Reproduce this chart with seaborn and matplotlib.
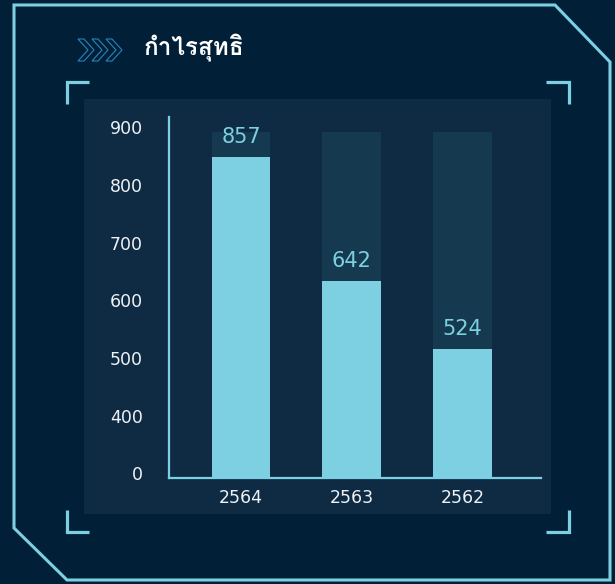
import numpy as np
import matplotlib
matplotlib.use('Agg')
import matplotlib.pyplot as plt
import seaborn as sns
from matplotlib import font_manager as fm
from matplotlib.ft2font import FT2Font
from matplotlib.patches import Polygon, Rectangle
from matplotlib.lines import Line2D
from matplotlib.transforms import ScaledTranslation

# Data
years = ['2564', '2563', '2562']
profit = [857, 642, 524]
track_max = [900, 900, 900]
y_ticks = [0, 400, 500, 600, 700, 800, 900]
title = 'กำไรสุทธิ'

W, H = 615, 584
BG = '#021f38'
PANEL = '#0f2b44'
TRACK = '#15394f'
CYAN = '#7dd0e1'
CHEVRON = '#1f88bd'
TEXT = '#eef2f5'


def thai_font():
    # find an installed family that has Thai glyphs
    found = []
    for f in fm.fontManager.ttflist:
        try:
            if FT2Font(f.fname).get_char_index(ord('ก')):
                found.append(f.name)
        except Exception:
            pass
    return found[0] if found else 'DejaVu Sans'


def px(x, y):
    # pixel position (from top left) -> figure fraction
    return x / W, 1 - y / H


# broken value axis: 0-400 squeezed into one step, then 100 per step
def fwd(v):
    v = np.asarray(v, dtype=float)
    return np.where(v <= 400, v / 400, 1 + (v - 400) / 100)


def inv(p):
    p = np.asarray(p, dtype=float)
    return np.where(p <= 1, p * 400, 400 + (p - 1) * 100)


fig = plt.figure(figsize=(W / 100, H / 100), dpi=100, facecolor=BG)

# Frame
frame = Polygon([px(14, 5), px(555, 5), px(610, 62), px(610, 580), px(67, 580), px(14, 528)],
                closed=True, fill=False, ec=CYAN, lw=2.2, transform=fig.transFigure)
fig.add_artist(frame)

# Inner panel
x0, y0 = px(84, 514)
fig.add_artist(Rectangle((x0, y0), 467 / W, 415 / H, fc=PANEL, ec='none',
                         transform=fig.transFigure, zorder=0))

# Corner brackets
for pts in [[(66.5, 104), (66.5, 81.5), (89, 81.5)],
            [(546, 81.5), (568.5, 81.5), (568.5, 104)],
            [(66.5, 510), (66.5, 531.5), (89, 531.5)],
            [(546, 531.5), (568.5, 531.5), (568.5, 510)]]:
    xy = [px(*p) for p in pts]
    fig.add_artist(Line2D([p[0] for p in xy], [p[1] for p in xy], color=CYAN, lw=2.3,
                          solid_joinstyle='miter', solid_capstyle='butt',
                          transform=fig.transFigure))

# Title chevrons + text
for cx in [78, 92, 106]:
    shape = [px(cx, 39), px(cx + 10, 50), px(cx, 61), px(cx + 6, 61), px(cx + 16, 50), px(cx + 6, 39)]
    fig.add_artist(Polygon(shape, closed=True, fill=False, ec=CHEVRON, lw=0.8,
                           transform=fig.transFigure))

tx, ty = px(144, 47)
fig.text(tx, ty, title, fontsize=17.5, fontweight='bold', color='white', va='center',
         ha='left', family=[thai_font(), 'DejaVu Sans'])

# Chart
ax = fig.add_axes([169 / W, 1 - 478 / H, 372 / W, 361 / H])
ax.set_facecolor('none')

sns.barplot(x=years, y=track_max, color=TRACK, saturation=1, width=0.53, ax=ax)
sns.barplot(x=years, y=profit, color=CYAN, saturation=1, width=0.53, ax=ax)

ax.bar_label(ax.containers[1], labels=[str(v) for v in profit], padding=7,
             color=CYAN, fontsize=15)

ax.set_yscale('function', functions=(fwd, inv))
ax.set_ylim(0, 926)
ax.set_xlim(-0.65, 2.71)
ax.set_yticks(y_ticks)
ax.set_yticklabels([str(t) for t in y_ticks])
ax.yaxis.set_minor_locator(matplotlib.ticker.NullLocator())
ax.tick_params(axis='y', length=0, pad=19, labelsize=12.5, colors=TEXT)
ax.tick_params(axis='x', length=0, pad=8, labelsize=12.5, colors=TEXT)
ax.set_xlabel('')
ax.set_ylabel('')

# y tick labels sit a little above their ticks in the reference
lift = ScaledTranslation(0, 4.5 / 100, fig.dpi_scale_trans)
for lbl in ax.get_yticklabels():
    lbl.set_transform(lbl.get_transform() + lift)

for side in ['top', 'right']:
    ax.spines[side].set_visible(False)
for side in ['left', 'bottom']:
    ax.spines[side].set_color(CYAN)
    ax.spines[side].set_linewidth(1.6)

fig.savefig('out.png', dpi=100, facecolor=BG)
